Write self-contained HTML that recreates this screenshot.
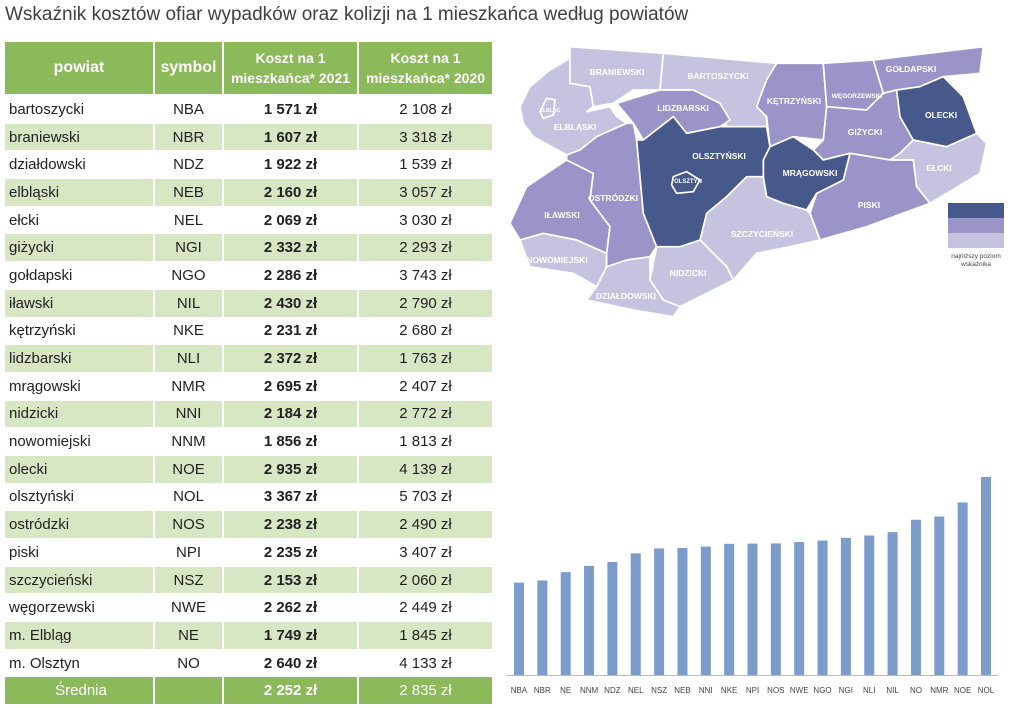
<!DOCTYPE html>
<html><head><meta charset="utf-8"><style>
body{margin:0;background:#fff;font-family:"Liberation Sans",sans-serif;}
#w{position:relative;width:1024px;height:708px;overflow:hidden;}
.t{position:absolute;left:5px;top:4px;font-size:19px;color:#404040;}
table{position:absolute;left:5px;top:42px;border-collapse:collapse;font-size:15px;color:#222;}
td{height:26.7px;line-height:15px;padding:0;text-align:center;border-right:2px solid #fff;border-bottom:1px solid #fff;}
td:first-child{text-align:left;padding-left:4px;}
th{background:#8cb95a;color:#fff;font-weight:bold;height:52px;border-right:2px solid #fff;border-bottom:2px solid #fff;padding:0;}
tr.g td{background:#d7e6c3;}
td.b{font-weight:bold;}
tr.s td{background:#8cb95a;color:#fff;text-align:center;}
</style></head><body><div id="w">
<div class="t">Wskaźnik kosztów ofiar wypadków oraz kolizji na 1 mieszkańca według powiatów</div>
<table>
<tr><th style="width:148px;font-size:16px">powiat</th><th style="width:67px;font-size:16px">symbol</th><th style="width:133px;font-size:14px;line-height:20px">Koszt na 1<br>mieszkańca* 2021</th><th style="width:133px;font-size:14px;line-height:20px">Koszt na 1<br>mieszkańca* 2020</th></tr>
<tr><td>bartoszycki</td><td>NBA</td><td class="b">1 571 zł</td><td>2 108 zł</td></tr>
<tr class="g"><td>braniewski</td><td>NBR</td><td class="b">1 607 zł</td><td>3 318 zł</td></tr>
<tr><td>działdowski</td><td>NDZ</td><td class="b">1 922 zł</td><td>1 539 zł</td></tr>
<tr class="g"><td>elbląski</td><td>NEB</td><td class="b">2 160 zł</td><td>3 057 zł</td></tr>
<tr><td>ełcki</td><td>NEL</td><td class="b">2 069 zł</td><td>3 030 zł</td></tr>
<tr class="g"><td>giżycki</td><td>NGI</td><td class="b">2 332 zł</td><td>2 293 zł</td></tr>
<tr><td>gołdapski</td><td>NGO</td><td class="b">2 286 zł</td><td>3 743 zł</td></tr>
<tr class="g"><td>iławski</td><td>NIL</td><td class="b">2 430 zł</td><td>2 790 zł</td></tr>
<tr><td>kętrzyński</td><td>NKE</td><td class="b">2 231 zł</td><td>2 680 zł</td></tr>
<tr class="g"><td>lidzbarski</td><td>NLI</td><td class="b">2 372 zł</td><td>1 763 zł</td></tr>
<tr><td>mrągowski</td><td>NMR</td><td class="b">2 695 zł</td><td>2 407 zł</td></tr>
<tr class="g"><td>nidzicki</td><td>NNI</td><td class="b">2 184 zł</td><td>2 772 zł</td></tr>
<tr><td>nowomiejski</td><td>NNM</td><td class="b">1 856 zł</td><td>1 813 zł</td></tr>
<tr class="g"><td>olecki</td><td>NOE</td><td class="b">2 935 zł</td><td>4 139 zł</td></tr>
<tr><td>olsztyński</td><td>NOL</td><td class="b">3 367 zł</td><td>5 703 zł</td></tr>
<tr class="g"><td>ostródzki</td><td>NOS</td><td class="b">2 238 zł</td><td>2 490 zł</td></tr>
<tr><td>piski</td><td>NPI</td><td class="b">2 235 zł</td><td>3 407 zł</td></tr>
<tr class="g"><td>szczycieński</td><td>NSZ</td><td class="b">2 153 zł</td><td>2 060 zł</td></tr>
<tr><td>węgorzewski</td><td>NWE</td><td class="b">2 262 zł</td><td>2 449 zł</td></tr>
<tr class="g"><td>m. Elbląg</td><td>NE</td><td class="b">1 749 zł</td><td>1 845 zł</td></tr>
<tr><td>m. Olsztyn</td><td>NO</td><td class="b">2 640 zł</td><td>4 133 zł</td></tr>
<tr class="s"><td style="text-align:center">Średnia</td><td></td><td class="b">2 252 zł</td><td>2 835 zł</td></tr>
</table>
<svg style="position:absolute;left:0;top:0" width="1024" height="708">
<g transform="translate(500,40) scale(0.3333)" stroke="#fff" stroke-width="5" stroke-linejoin="round">
<polygon fill="#c6c3e1" points="60,200 90,140 150,90 210,55 210,130 270,140 280,200 260,215 330,200 350,230 380,250 290,290 240,330 200,345 100,290 70,250"/>
<polygon fill="#c6c3e1" points="210,20 490,40 480,150 400,150 340,190 280,200 270,140 210,130"/>
<polygon fill="#c6c3e1" points="490,40 830,70 800,120 770,200 800,230 800,260 680,260 660,190 580,150 480,150"/>
<polygon fill="#9b94c9" points="350,190 480,150 580,150 660,190 690,240 660,260 560,280 520,230 430,300 400,250"/>
<polygon fill="#9b94c9" points="830,70 970,70 980,200 970,300 880,290 810,320 800,230 770,200 800,120"/>
<polygon fill="#9b94c9" points="970,70 1120,60 1150,160 1100,210 980,200"/>
<polygon fill="#9b94c9" points="1120,60 1450,20 1440,100 1330,110 1260,140 1190,150 1150,160"/>
<polygon fill="#9b94c9" points="980,200 1100,210 1150,160 1190,150 1200,230 1240,300 1200,340 1170,360 1050,340 970,360 940,330 970,300"/>
<polygon fill="#c6c3e1" points="1240,300 1340,320 1430,280 1460,310 1440,400 1290,490 1250,440 1240,360 1170,360 1200,340"/>
<polygon fill="#9b94c9" points="1050,340 1170,360 1240,360 1250,440 1290,490 1100,560 960,600 930,520 950,460 1030,420"/>
<polygon fill="#c6c3e1" points="800,470 850,490 920,510 930,520 960,600 870,620 770,640 700,720 680,680 640,640 600,600 620,520 680,470 740,410 790,410"/>
<polygon fill="#c6c3e1" points="470,620 540,620 600,600 640,640 680,680 700,720 660,740 540,800 490,780 450,720"/>
<polygon fill="#c6c3e1" points="320,680 380,660 450,650 450,720 490,780 540,800 520,830 460,820 400,810 260,780 290,740"/>
<polygon fill="#c6c3e1" points="60,600 130,580 230,600 320,640 320,680 290,740 220,700 90,680"/>
<polygon fill="#9b94c9" points="30,550 80,440 200,360 280,400 270,480 330,560 320,640 230,600 130,580 60,600"/>
<polygon fill="#9b94c9" points="200,345 240,330 290,290 380,250 400,250 410,300 430,520 470,620 450,650 380,660 320,680 320,640 330,560 270,480 280,400 200,360"/>
<polygon fill="#46598a" points="1190,150 1260,140 1330,110 1390,170 1430,280 1340,320 1240,300 1200,230"/>
<polygon fill="#46598a" points="810,320 880,290 940,330 970,360 1050,340 1030,420 950,460 920,510 850,490 800,470 790,410 790,360"/>
<polygon fill="#46598a" points="410,300 430,300 520,230 560,280 660,260 680,260 800,260 810,320 790,360 790,410 740,410 680,470 620,520 600,600 540,620 470,620 430,520"/>
<polygon fill="none" points="520,410 560,395 600,420 580,455 530,460 515,435"/>
<polygon fill="none" points="120,215 140,175 165,180 160,225 130,235"/>
</g>
<g font-family="Liberation Sans,sans-serif" font-size="8.5" font-weight="bold" fill="#fff" text-anchor="middle">
<text x="617" y="75">BRANIEWSKI</text><text x="718" y="79">BARTOSZYCKI</text>
<text x="683" y="111">LIDZBARSKI</text><text x="794" y="104">KĘTRZYŃSKI</text>
<text x="857" y="98" font-size="6.5">WĘGORZEWSKI</text><text x="911" y="72">GOŁDAPSKI</text>
<text x="941" y="118">OLECKI</text><text x="865" y="135">GIŻYCKI</text>
<text x="575" y="130">ELBLĄSKI</text><text x="719" y="159">OLSZTYŃSKI</text>
<text x="810" y="176">MRĄGOWSKI</text><text x="939" y="171">EŁCKI</text>
<text x="869" y="208">PISKI</text><text x="613" y="201">OSTRÓDZKI</text>
<text x="562" y="218">IŁAWSKI</text><text x="762" y="237">SZCZYCIEŃSKI</text>
<text x="557" y="263">NOWOMIEJSKI</text><text x="688" y="276">NIDZICKI</text>
<text x="626" y="299">DZIAŁDOWSKI</text>
<text x="688" y="183" font-size="6">OLSZTYN</text><text x="550" y="112" font-size="5">ELBLĄG</text>
</g>
<rect x="948" y="203" width="56" height="15" fill="#46598a"/>
<rect x="948" y="218" width="56" height="15" fill="#9b94c9"/>
<rect x="948" y="233" width="56" height="15" fill="#c6c3e1"/>
<text x="976" y="258" font-family="Liberation Sans,sans-serif" font-size="6.5" fill="#444" text-anchor="middle">najniższy poziom</text>
<text x="976" y="266" font-family="Liberation Sans,sans-serif" font-size="6.5" fill="#444" text-anchor="middle">wskaźnika</text>
<g fill="#7d9ccb" id="bars"></g>
<line x1="507" y1="675.5" x2="998" y2="675.5" stroke="#bbb" stroke-width="1"/>
<g font-family="Liberation Sans,sans-serif" font-size="8" fill="#444" text-anchor="middle" id="lbl"></g>
</svg>
<script>
var d=[["NBA",1571],["NBR",1607],["NE",1749],["NNM",1856],["NDZ",1922],["NEL",2069],["NSZ",2153],["NEB",2160],["NNI",2184],["NKE",2231],["NPI",2235],["NOS",2238],["NWE",2262],["NGO",2286],["NGI",2332],["NLI",2372],["NIL",2430],["NO",2640],["NMR",2695],["NOE",2935],["NOL",3367]];
var b=document.getElementById("bars"),l=document.getElementById("lbl"),ns="http://www.w3.org/2000/svg";
d.forEach(function(e,i){var cx=519+i*23.35,h=e[1]*0.0588;
var r=document.createElementNS(ns,"rect");r.setAttribute("x",cx-5);r.setAttribute("y",675-h);r.setAttribute("width",10);r.setAttribute("height",h);b.appendChild(r);
var t=document.createElementNS(ns,"text");t.setAttribute("x",cx);t.setAttribute("y",693);t.textContent=e[0];l.appendChild(t);});
</script>
</div></body></html>
